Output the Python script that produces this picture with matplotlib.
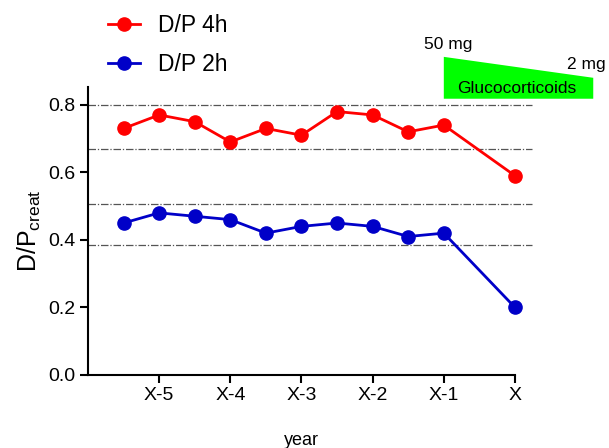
import matplotlib.pyplot as plt
from matplotlib.patches import Polygon

plt.rcParams['font.family'] = ['Liberation Sans', 'DejaVu Sans']

# years relative to X (0 = X)
years = [-5.5, -5, -4.5, -4, -3.5, -3, -2.5, -2, -1.5, -1, 0]
dp_4h = [0.73, 0.77, 0.75, 0.69, 0.73, 0.71, 0.78, 0.77, 0.72, 0.74, 0.59]
dp_2h = [0.45, 0.48, 0.47, 0.46, 0.42, 0.44, 0.45, 0.44, 0.41, 0.42, 0.20]
tick_pos = [-5, -4, -3, -2, -1, 0]
tick_labels = ['X-5', 'X-4', 'X-3', 'X-2', 'X-1', 'X']
ref_levels = [0.80, 0.67, 0.505, 0.385]
steroid_x = [-1, 1.1]
steroid_top = [0.942, 0.88]
steroid_bottom = 0.818

fig = plt.figure(figsize=(6.09, 4.48), dpi=100)
ax = fig.add_axes([0.1445, 0.163, 0.7011, 0.643])

for lv in ref_levels:
    ax.plot([-6, 0.24], [lv, lv], color='#555555', lw=0.9,
            linestyle=(0, (6, 1.5, 1, 1.5)), clip_on=False, zorder=1)

ax.plot(years, dp_4h, color='#ff0000', lw=2, marker='o', ms=9.5,
        label='D/P 4h', clip_on=False, zorder=3)
ax.plot(years, dp_2h, color='#0000c8', lw=2, marker='o', ms=9.5,
        label='D/P 2h', clip_on=False, zorder=3)

# glucocorticoid taper wedge
poly = Polygon([(steroid_x[0], steroid_top[0]), (steroid_x[1], steroid_top[1]),
                (steroid_x[1], steroid_bottom), (steroid_x[0], steroid_bottom)],
               closed=True, facecolor='#00ff00', edgecolor='none', clip_on=False)
ax.add_patch(poly)
ax.text(-1.28, 0.98, '50 mg', fontsize=12.5, ha='left', va='center')
ax.text(1.27, 0.92, '2 mg', fontsize=12.5, ha='right', va='center')
ax.text(0.03, 0.848, 'Glucocorticoids', fontsize=12.5, ha='center', va='center')

ax.set_xlim(-6, 0)
ax.set_ylim(0, 0.853)
ax.set_xticks(tick_pos)
ax.set_xticklabels(tick_labels)
ax.set_yticks([0.0, 0.2, 0.4, 0.6, 0.8])
ax.set_yticklabels(['0.0', '0.2', '0.4', '0.6', '0.8'])
ax.tick_params(direction='out', length=6, width=1.5, labelsize=14, pad=3)
for s in ['top', 'right']:
    ax.spines[s].set_visible(False)
for s in ['left', 'bottom']:
    ax.spines[s].set_linewidth(1.5)

ax.set_xlabel('year', fontsize=13, labelpad=20)
ax.set_ylabel('D/P$_{\\mathregular{creat}}$', fontsize=18, labelpad=4)

fig.legend(loc='upper left', bbox_to_anchor=(0.143, 1.015), frameon=False,
           fontsize=16.5, handlelength=1.4, labelspacing=0.72, handletextpad=0.8)

fig.savefig('out.png', dpi=100)
